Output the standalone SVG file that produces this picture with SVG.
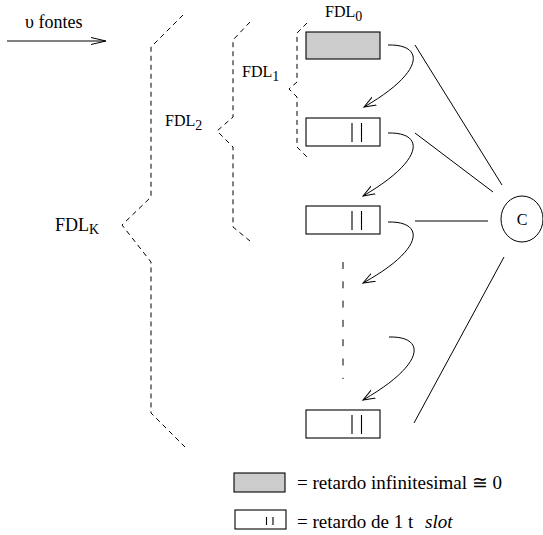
<svg xmlns="http://www.w3.org/2000/svg" width="543" height="535" viewBox="0 0 543 535">
<defs>
<style>
text{font-family:'Liberation Serif','Times New Roman',Times,serif;fill:#000}
.box{fill:#fff;stroke:#000;stroke-width:1.1}
.gray{fill:#cccccc;stroke:#000;stroke-width:1.1}
.mk{stroke:#000;stroke-width:1.1}
.br{fill:none;stroke:#000;stroke-width:1;stroke-dasharray:5,4}
.ln{fill:none;stroke:#000;stroke-width:1}
</style>
<marker id="ah" markerUnits="userSpaceOnUse" markerWidth="14" markerHeight="12" refX="12" refY="5" orient="auto" viewBox="0 0 14 10">
<path d="M0,0.5 L12,5 L0,9.5" fill="none" stroke="#000" stroke-width="1"/>
</marker>
</defs>
<rect width="543" height="535" fill="#fff"/>

<g id="fontes">
<text x="25" y="28" font-size="18" font-family="Liberation Serif, serif">υ fontes</text>
<line class="ln" x1="7" y1="41" x2="105" y2="41"/>
<path class="ln" d="M91,37.5 L106,41 L91,44.5"/>
</g>

<g id="fdlK">
<path class="br" d="M183,15 L151,47 L151,197 L122,225 L151,262 L151,413 L185,447"/>
<text x="55" y="231" font-size="18" font-family="Liberation Serif, serif">FDL<tspan font-size="14" dy="3">K</tspan></text>
</g>
<g id="fdl2">
<path class="br" d="M250,22 L233,40 L233,117 L217,131 L233,147 L233,227 L250,241"/>
<text x="165" y="126" font-size="16" font-family="Liberation Serif, serif">FDL<tspan font-size="14" dy="4">2</tspan></text>
</g>
<g id="fdl1">
<path class="br" d="M307,23 L297,33 L297,82 L289,89 L297,97 L297,147 L307,157"/>
<text x="242" y="77" font-size="16" font-family="Liberation Serif, serif">FDL<tspan font-size="14" dy="4">1</tspan></text>
</g>
<g id="fdl0">
<text x="325" y="17" font-size="16" font-family="Liberation Serif, serif">FDL<tspan font-size="14" dy="4">0</tspan></text>
</g>

<g id="box0"><rect class="gray" x="306" y="32" width="74" height="27"/></g>
<g id="box1"><rect class="box" x="306" y="118" width="74" height="28"/><path class="mk" d="M352,123V142M361.5,123V142"/></g>
<g id="box2"><rect class="box" x="306" y="206" width="74" height="28"/><path class="mk" d="M352,211V230M361.5,211V230"/></g>
<g id="box3"><rect class="box" x="306" y="410" width="74" height="28"/><path class="mk" d="M352,415V434M361.5,415V434"/></g>

<g id="c">
<ellipse cx="522" cy="219" rx="21" ry="23" fill="#fff" stroke="#000" stroke-width="1"/>
<text x="522" y="225" font-size="16" text-anchor="middle" font-family="Liberation Serif, serif">C</text>
</g>

<g id="connectors">
<path class="ln" d="M388,45 c37,-1 37,27 -24,62" marker-end="url(#ah)"/>
<path class="ln" d="M388,133 c37,-1 37,27 -25,63" marker-end="url(#ah)"/>
<path class="ln" d="M388,222 c37,-1 37,27 -25,61" marker-end="url(#ah)"/>
<path class="ln" d="M389,337 c37,-1 37,27 -26,63" marker-end="url(#ah)"/>
<line class="ln" x1="343" y1="262" x2="343" y2="379" stroke-width="1.8" stroke-dasharray="7,12.3"/>
<line class="ln" x1="415" y1="45" x2="502" y2="185"/>
<line class="ln" x1="415" y1="133" x2="493" y2="192"/>
<line class="ln" x1="415" y1="221" x2="488" y2="221"/>
<line class="ln" x1="504" y1="257" x2="414" y2="423"/>
</g>

<g id="legend">
<rect class="gray" x="234" y="473" width="51" height="19"/>
<text x="297" y="489" font-size="19" font-family="Liberation Serif, serif">= retardo infinitesimal ≅ 0</text>
<rect class="box" x="235" y="510" width="51" height="19"/>
<path class="mk" d="M266.5,517V525M273,517V525"/>
<text x="297" y="528" font-size="19" font-family="Liberation Serif, serif">= retardo de 1 t <tspan font-style="italic" x="425">slot</tspan></text>
</g>
</svg>
